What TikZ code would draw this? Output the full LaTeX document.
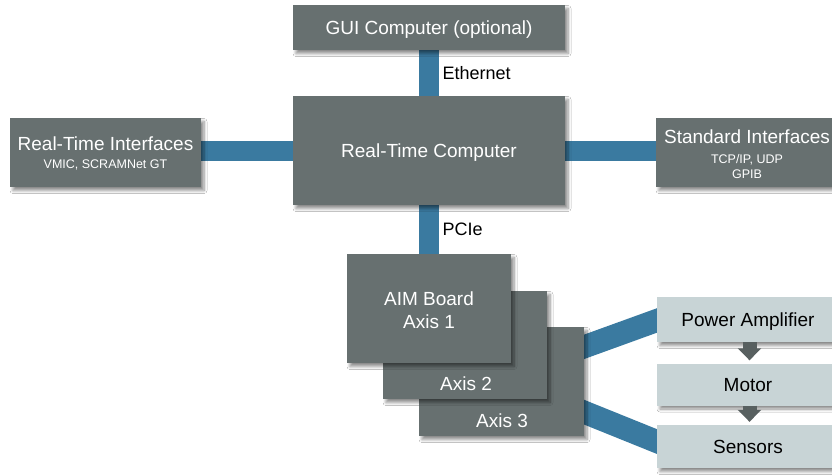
\documentclass[tikz,border=0pt]{standalone}
\usepackage{fontspec}
\setmainfont{Liberation Sans}
\usetikzlibrary{shadows.blur,arrows.meta,backgrounds,calc}
\definecolor{boxgray}{RGB}{103,112,112}
\definecolor{boxlight}{RGB}{200,212,214}
\definecolor{linkblue}{RGB}{58,122,160}
\definecolor{arrgray}{RGB}{88,96,96}
\begin{document}
\begin{tikzpicture}[x=1pt,y=-1pt,
  darkbox/.style={fill=boxgray, draw=none, text=white, inner sep=0pt, align=center,
    font=\fontsize{19}{23}\selectfont,
    blur shadow={shadow xshift=3pt, shadow yshift=-3.5pt, shadow blur steps=6, shadow blur radius=3pt, shadow opacity=45}},
  lightbox/.style={darkbox, fill=boxlight, text=black},
  oneline/.style={text height=13.7pt, text depth=0pt},
  boxlabel/.style={text=white, inner sep=0pt, font=\fontsize{19}{23}\selectfont, oneline},
  link/.style={draw=linkblue, line width=20pt},
  diag/.style={draw=linkblue, line width=23pt, shorten <=-12pt, shorten >=-12pt},
  linklabel/.style={text=black, font=\fontsize{18}{22}\selectfont},
  flow/.style={draw=arrgray, line width=14pt, -{Triangle[width=23pt,length=12pt]}}
]
\path[use as bounding box, clip] (0,0) rectangle (832,475);

% boxes
\node[darkbox, oneline, minimum width=272pt, minimum height=45pt] (gui) at (429,27.5) {GUI Computer (optional)};
\node[darkbox, oneline, minimum width=272pt, minimum height=109pt] (rtc) at (429,150.5) {Real-Time Computer};
\node[darkbox, minimum width=191pt, minimum height=69pt] (rti) at (105.5,152.5)
  {\rule{0pt}{16pt}Real-Time Interfaces\\[-5pt]{\fontsize{12.5}{15}\selectfont VMIC, SCRAMNet GT}};
\node[darkbox, minimum width=182pt, minimum height=69pt] (std) at (747,152.5)
  {\rule{0pt}{17pt}Standard Interfaces\\[-3pt]{\fontsize{12.5}{15}\selectfont TCP/IP, UDP}\\[-8pt]{\fontsize{12.5}{15}\selectfont GPIB}};

\node[darkbox, minimum width=165pt, minimum height=109pt] (ax3) at (501.5,381.5) {};
\node[boxlabel] (ax3t) at (502,421) {Axis 3};
\node[darkbox, minimum width=164pt, minimum height=108pt] (ax2) at (465,345) {};
\node[boxlabel] (ax2t) at (466,384) {Axis 2};
\node[darkbox, minimum width=164pt, minimum height=109pt] (aim) at (429,308.5) {\rule{0pt}{17pt}AIM Board\\Axis 1};

\node[lightbox, oneline, minimum width=182pt, minimum height=45pt] (pamp) at (748,319.5) {Power Amplifier};
\node[lightbox, oneline, minimum width=182pt, minimum height=42pt] (motor) at (748,384.5) {Motor};
\node[lightbox, oneline, minimum width=182pt, minimum height=43pt] (sens) at (748,446.5) {Sensors};

% connectors
\begin{scope}[on background layer]
  \fill[white] (0,0) rectangle (832,475);
  \draw[link] (gui.south) -- (rtc.north);
  \draw[link] (rtc.south) -- (aim.north);
  \draw[link] ([yshift=1.5pt]rti.center) -- ([yshift=1.5pt]rti.center -| rtc.center);
  \draw[link] ([yshift=1.5pt]std.center) -- ([yshift=1.5pt]std.center -| rtc.center);
  \draw[diag] ([yshift=-20pt]ax3.north east) -- ([yshift=-1pt]pamp.west);
  \draw[diag] ([yshift=24pt]ax3.south east) -- ([yshift=5pt]sens.west);
\end{scope}
\path (gui.south) -- (rtc.north) node[midway, right=10pt, linklabel] (eth) {Ethernet};
\path (rtc.south) -- (aim.north) node[midway, right=10pt, linklabel] (pcie) {PCIe};

\draw[flow] ([xshift=1.5pt]pamp.south) -- ([xshift=1.5pt,yshift=3pt]motor.north);
\draw[flow] ([xshift=1.5pt]motor.south) -- ([xshift=1.5pt,yshift=3pt]sens.north);
\end{tikzpicture}
\end{document}
